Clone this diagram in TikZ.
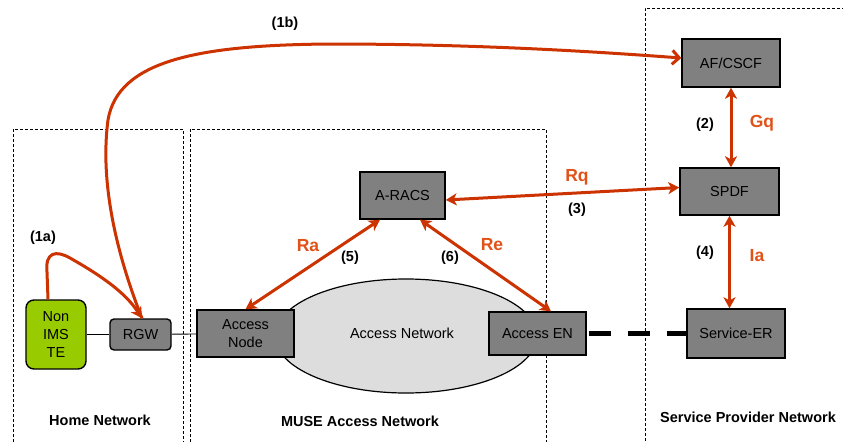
\documentclass[tikz,border=0pt]{standalone}
\usepackage{fontspec}
\setmainfont{Liberation Sans}
\usetikzlibrary{arrows.meta,shapes.geometric,calc}
\definecolor{arrowred}{RGB}{204,51,0}
\definecolor{lblorange}{RGB}{224,82,24}
\definecolor{boxgray}{RGB}{128,128,128}
\definecolor{tegreen}{RGB}{153,204,0}
\definecolor{netgray}{RGB}{221,221,221}
\begin{document}
\begin{tikzpicture}[x=1pt,y=-1pt,
  font=\fontsize{14.5}{18}\selectfont,
  gbox/.style={draw=black,line width=1.4pt,fill=boxgray,inner sep=0pt,align=center},
  zone/.style={draw=black,line width=0.6pt,dash pattern=on 3pt off 2pt},
  flow/.style={draw=arrowred,line width=3pt},
  dbl/.style={flow,{Stealth[length=11pt,width=12pt,inset=3pt]}-{Stealth[length=11pt,width=12pt,inset=3pt]}},
  onehead/.style={flow,-{Stealth[length=11pt,width=12pt,inset=3pt]}},
  barbhead/.style={flow,-{Straight Barb[length=7pt,width=14pt,line width=3pt]}},
  num/.style={font=\fontsize{14.5}{18}\selectfont\bfseries,text=black},
  iface/.style={font=\fontsize{17.5}{20}\selectfont\bfseries,text=lblorange},
  zonelbl/.style={font=\fontsize{14.5}{18}\selectfont\bfseries,text=black}]
\useasboundingbox[fill=white] (0,0) rectangle (843,442);

% zones
\draw[zone] (13,442) -- (13,129) -- (183,129) -- (183,442);
\draw[zone] (190,442) -- (190,129) -- (546,129) -- (546,442);
\draw[zone] (850,8) -- (645,8) -- (645,442);

% access network cloud
\node[ellipse,draw=black,line width=1.2pt,fill=netgray,minimum width=262pt,minimum height=114pt,inner sep=0pt] (cloud) at (406,336) {};
\node (cloudlbl) at (402,333) {Access Network};

% nodes
\node[draw=black,line width=1.4pt,fill=tegreen,rounded corners=8pt,minimum width=60pt,minimum height=69pt,inner sep=0pt,align=center] (te) at (56,334.5) {Non\\IMS\\TE};
\node[gbox,rounded corners=4pt,minimum width=61pt,minimum height=31pt] (rgw) at (140.5,334.5) {RGW};
\node[gbox,minimum width=97pt,minimum height=47pt] (an) at (245.5,333.5) {Access\\Node};
\node[gbox,minimum width=97pt,minimum height=43pt] (aen) at (537.5,333.5) {Access EN};
\node[gbox,minimum width=85pt,minimum height=47pt] (aracs) at (402.5,195.5) {A-RACS};
\node[gbox,minimum width=98pt,minimum height=48pt] (af) at (731,63) {AF/CSCF};
\node[gbox,minimum width=99pt,minimum height=47pt] (spdf) at (729.5,191.5) {SPDF};
\node[gbox,minimum width=98pt,minimum height=49pt] (ser) at (736,333.5) {Service-ER};

% plain links
\draw[line width=0.9pt] (te) -- (rgw);
\draw[line width=0.9pt] (rgw) -- (an);
\draw[line width=5pt,dash pattern=on 22pt off 17pt,dash phase=37pt] (aen.east) -- (ser.west);

% signalling arrows
\coordinate (rgwtop) at ([xshift=1.5pt]rgw.north);
\coordinate (tetop) at ([xshift=-8pt]te.north);
\draw[barbhead] (rgwtop) .. controls (115,250) and (100,180) .. (108,120)
   .. controls (118,60) and (200,45) .. (330,44)
   .. controls (480,44) and (600,52) .. ([yshift=5pt]af.west);
\draw[onehead] (tetop) -- (47,272) .. controls (45,252) and (56,250) .. (70,258)
   .. controls (100,275) and (125,292) .. (rgwtop);
\draw[dbl] (af.south) -- (af.south |- spdf.north);
\draw[dbl] (spdf.south) -- (spdf.south |- ser.north);
\draw[dbl] ([yshift=4pt]spdf.west) -- ([yshift=-4.5pt]aracs.east);
\draw[dbl] ([xshift=-22.5pt]aracs.south) -- (an.north);
\draw[dbl] ([xshift=17.5pt]aracs.south) -- ([xshift=13.5pt]aen.north);

% labels
\node[num] (l1a) at (43,238) {(1a)};
\node[num] (l1b) at (285,24) {(1b)};
\node[num] (l2) at (705,125) {(2)};
\node[num] (l3) at (577,210) {(3)};
\node[num] (l4) at (705,253) {(4)};
\node[num] (l5) at (350,258) {(5)};
\node[num] (l6) at (450,258) {(6)};
\node[iface] (lgq) at (762,123) {Gq};
\node[iface] (lrq) at (577,177) {Rq};
\node[iface] (lia) at (757,256) {Ia};
\node[iface] (lra) at (308,246) {Ra};
\node[iface] (lre) at (492,245) {Re};

\node[zonelbl] (zhome) at (100,420) {Home Network};
\node[zonelbl] (zmuse) at (360,421) {MUSE Access Network};
\node[zonelbl] (zsp) at (748,417) {Service Provider Network};
\end{tikzpicture}
\end{document}
